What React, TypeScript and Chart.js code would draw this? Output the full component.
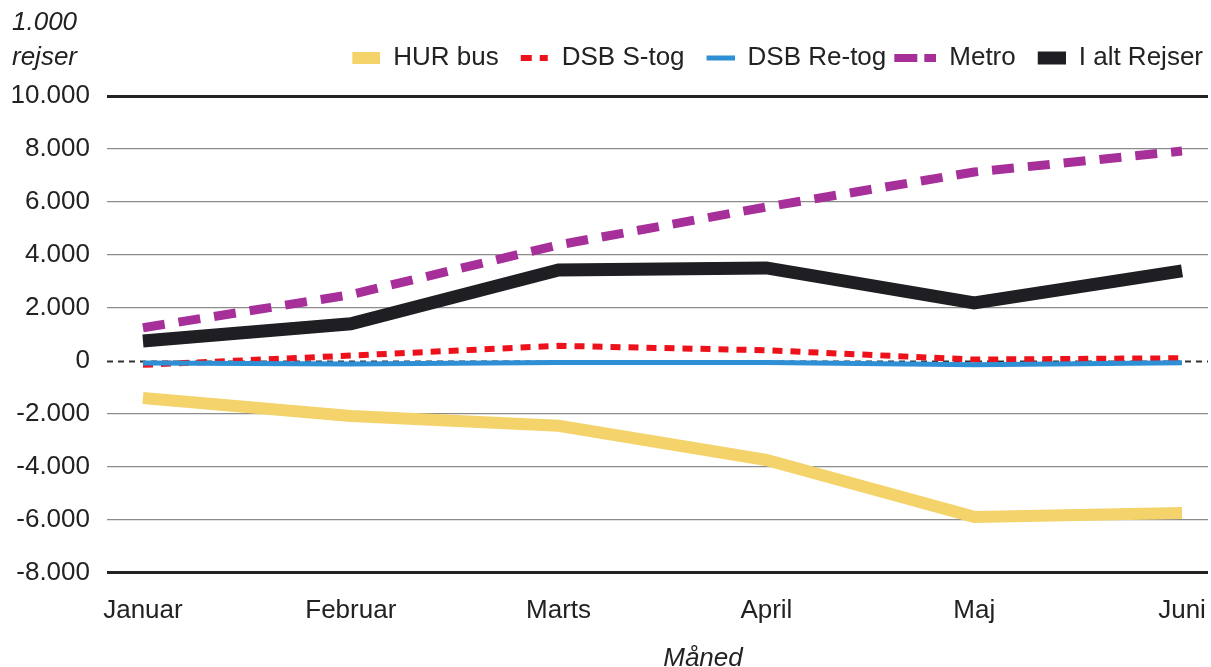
import React, { useEffect, useRef } from 'react';
import { Chart, registerables } from 'chart.js';

Chart.register(...registerables);

// ---- data ----
const months = ['Januar', 'Februar', 'Marts', 'April', 'Maj', 'Juni'];
const hurBus = [-1400, -2080, -2450, -3740, -5890, -5740];
const dsbSTog = [-150, 200, 570, 400, 50, 100];
const dsbReTog = [-80, -120, -60, -60, -150, -70];
const metro = [1250, 2500, 4380, 5810, 7130, 7920];
const iAltRejser = [750, 1400, 3430, 3510, 2190, 3400];
const yTickValues = [-8000, -6000, -4000, -2000, 0, 2000, 4000, 6000, 8000, 10000];
const seriesNames = ['HUR bus', 'DSB S-tog', 'DSB Re-tog', 'Metro', 'I alt Rejser'];

const FONT = '"Liberation Sans", Arial, Helvetica, sans-serif';
const TEXT = '#222222';
const COLORS = {
  hur: '#F4D36B',
  stog: '#EC111A',
  retog: '#2F8FD4',
  metro: '#A62F9A',
  ialt: '#1F1F23',
};

function fmt(v: number): string {
  const s = Math.abs(v).toString().replace(/\B(?=(\d{3})+(?!\d))/g, '.');
  return (v < 0 ? '-' : '') + s;
}

function swatch(draw: (c: CanvasRenderingContext2D) => void): HTMLCanvasElement {
  const c = document.createElement('canvas');
  c.width = 45;
  c.height = 16;
  const ctx = c.getContext('2d')!;
  draw(ctx);
  return c;
}

const zeroLine = {
  id: 'zeroLine',
  beforeDatasetsDraw(chart: any) {
    const { ctx, chartArea, scales } = chart;
    const y = Math.round(scales.y.getPixelForValue(0)) + 0.5;
    ctx.save();
    ctx.setLineDash([6, 5]);
    ctx.strokeStyle = '#333333';
    ctx.lineWidth = 2;
    ctx.beginPath();
    ctx.moveTo(chartArea.left, y);
    ctx.lineTo(chartArea.right, y);
    ctx.stroke();
    ctx.restore();
  },
};

const legendGap = {
  id: 'legendGap',
  beforeUpdate(chart: any) {
    const lg = chart.legend;
    if (lg && !lg._gapPatched) {
      const orig = lg.fit.bind(lg);
      lg.fit = function () {
        orig();
        this.height += 15;
      };
      lg._gapPatched = true;
    }
  },
};

export default function App() {
  const canvasRef = useRef<HTMLCanvasElement | null>(null);

  useEffect(() => {
    document.body.style.margin = '0';
    const canvas = canvasRef.current;
    if (!canvas) return;

    const swatches = [
      swatch((c) => { c.fillStyle = COLORS.hur; c.fillRect(17, 2, 28, 12); }),
      swatch((c) => { c.fillStyle = COLORS.stog; c.fillRect(17, 5, 11, 6); c.fillRect(36, 5, 8, 6); }),
      swatch((c) => { c.fillStyle = COLORS.retog; c.fillRect(17, 5.5, 28, 5); }),
      swatch((c) => { c.fillStyle = COLORS.metro; c.fillRect(3, 4, 23, 8); c.fillRect(33, 4, 12, 8); }),
      swatch((c) => { c.fillStyle = COLORS.ialt; c.fillRect(17, 1.5, 28, 13); }),
    ];

    const pts = (arr: number[]) => arr.map((v, i) => ({ x: i, y: v }));

    const chart = new Chart(canvas, {
      type: 'line',
      data: {
        datasets: [
          { label: seriesNames[0], data: pts(hurBus), borderColor: COLORS.hur, backgroundColor: COLORS.hur, borderWidth: 12, order: 5 },
          { label: seriesNames[1], data: pts(dsbSTog), borderColor: COLORS.stog, backgroundColor: COLORS.stog, borderWidth: 6, borderDash: [10, 8], order: 4 },
          { label: seriesNames[2], data: pts(dsbReTog), borderColor: COLORS.retog, backgroundColor: COLORS.retog, borderWidth: 5, order: 3 },
          { label: seriesNames[3], data: pts(metro), borderColor: COLORS.metro, backgroundColor: COLORS.metro, borderWidth: 9, borderDash: [22, 14], order: 2 },
          { label: seriesNames[4], data: pts(iAltRejser), borderColor: COLORS.ialt, backgroundColor: COLORS.ialt, borderWidth: 13, order: 1 },
        ],
      },
      options: {
        animation: false,
        responsive: true,
        maintainAspectRatio: false,
        layout: { padding: { top: 40, left: 10, right: 3, bottom: 19 } },
        elements: {
          point: { radius: 0, hoverRadius: 0 },
          line: { tension: 0, borderCapStyle: 'butt', borderJoinStyle: 'miter', fill: false },
        },
        plugins: {
          tooltip: { enabled: false },
          title: { display: false },
          legend: {
            display: true,
            position: 'top',
            align: 'end',
            labels: {
              usePointStyle: true,
              pointStyleWidth: 45,
              boxHeight: 16,
              padding: 5,
              color: TEXT,
              font: { family: FONT, size: 26 },
              generateLabels: () =>
                seriesNames.map((name, i) => ({
                  text: name,
                  pointStyle: swatches[i],
                  datasetIndex: i,
                  hidden: false,
                  fillStyle: 'rgba(0,0,0,0)',
                  strokeStyle: 'rgba(0,0,0,0)',
                  lineWidth: 0,
                  fontColor: TEXT,
                })),
            },
          },
        },
        scales: {
          x: {
            type: 'linear',
            min: -0.173,
            max: 5.125,
            afterBuildTicks: (scale: any) => {
              scale.ticks = months.map((_, i) => ({ value: i }));
            },
            afterFit: (scale: any) => {
              scale.paddingLeft = 0;
              scale.paddingRight = 0;
            },
            ticks: {
              autoSkip: false,
              maxRotation: 0,
              padding: 22,
              color: TEXT,
              font: { family: FONT, size: 26 },
              callback: (v: any) => months[Number(v)] ?? '',
            },
            grid: { display: false, drawTicks: false },
            border: { display: false },
          },
          y: {
            type: 'linear',
            min: -8000,
            max: 10000,
            afterBuildTicks: (scale: any) => {
              scale.ticks = yTickValues.map((v) => ({ value: v }));
            },
            afterFit: (scale: any) => {
              scale.width = 97;
              scale.paddingTop = 0;
              scale.paddingBottom = 0;
            },
            ticks: {
              padding: 17,
              color: TEXT,
              font: { family: FONT, size: 26 },
              callback: (v: any) => fmt(Number(v)),
            },
            grid: {
              drawTicks: false,
              color: (ctx: any) => {
                const v = ctx.tick && ctx.tick.value;
                if (v === 0) return 'rgba(0,0,0,0)';
                if (v === 10000 || v === -8000) return '#222222';
                return '#8c8c8c';
              },
              lineWidth: (ctx: any) => {
                const v = ctx.tick && ctx.tick.value;
                if (v === 10000 || v === -8000) return 3;
                return 1.3;
              },
            },
            border: { display: false },
          },
        },
      },
      plugins: [zeroLine, legendGap],
    } as any);

    return () => {
      chart.destroy();
    };
  }, []);

  return (
    <div style={{ position: 'relative', width: 1211, height: 667, background: '#ffffff', fontFamily: FONT }}>
      <canvas ref={canvasRef} style={{ display: 'block' }} />
      <div
        style={{
          position: 'absolute',
          left: 12,
          top: 4,
          fontStyle: 'italic',
          fontSize: 26,
          lineHeight: '35px',
          color: TEXT,
          pointerEvents: 'none',
        }}
      >
        <div>1.000</div>
        <div>rejser</div>
      </div>
      <div
        style={{
          position: 'absolute',
          left: 703,
          top: 641,
          transform: 'translateX(-50%)',
          fontStyle: 'italic',
          fontSize: 26,
          lineHeight: '32px',
          color: TEXT,
          whiteSpace: 'nowrap',
          pointerEvents: 'none',
        }}
      >
        Måned
      </div>
    </div>
  );
}
